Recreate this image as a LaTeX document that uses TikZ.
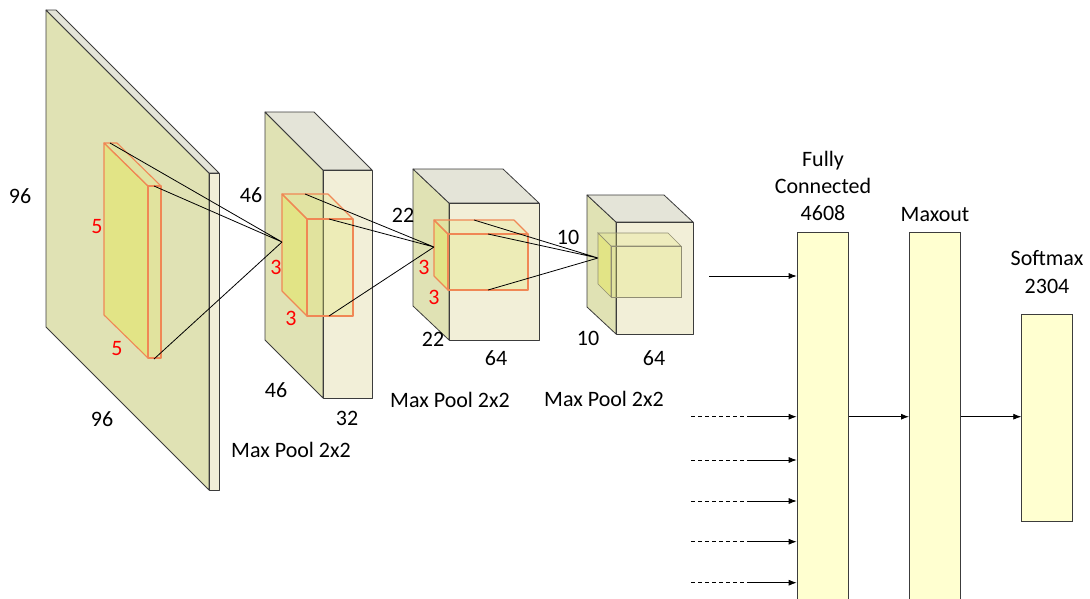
\documentclass[tikz,border=0pt]{standalone}
\usepackage{fontspec}
\setmainfont{Carlito}
\usetikzlibrary{arrows.meta}
\definecolor{lfrontc}{RGB}{224,226,180}
\definecolor{ltopc}{RGB}{228,228,216}
\definecolor{lsidec}{RGB}{242,239,216}
\definecolor{kyel}{RGB}{228,230,110}
\definecolor{korange}{RGB}{240,135,85}
\definecolor{fcfill}{RGB}{255,255,208}
\definecolor{edgec}{RGB}{60,60,60}
\tikzset{
  lfront/.style={fill=lfrontc, draw=edgec, line width=0.8pt, line join=round},
  ltop/.style={fill=ltopc, draw=edgec, line width=0.8pt, line join=round},
  lside/.style={fill=lsidec, draw=edgec, line width=0.8pt, line join=round},
  kfront/.style={fill=kyel, fill opacity=0.65, draw=korange, line width=1.1pt, line join=round},
  ktop/.style={fill=kyel, fill opacity=0.25, draw=korange, line width=1.1pt, line join=round},
  kside/.style={fill=kyel, fill opacity=0.3, draw=korange, line width=1.1pt, line join=round},
  gfront/.style={fill=kyel, fill opacity=0.65, draw=gray!80!olive, line width=0.7pt},
  gtop/.style={fill=kyel, fill opacity=0.25, draw=gray!80!olive, line width=0.7pt},
  gside/.style={fill=kyel, fill opacity=0.3, draw=gray!80!olive, line width=0.7pt},
  lbl/.style={font=\fontsize{22}{24}\selectfont, inner sep=0pt},
  rlbl/.style={lbl, text=red},
  conn/.style={draw=black, line width=0.8pt},
  fcbox/.style={draw=edgec, fill=fcfill, line width=0.8pt, anchor=north west, minimum width=51pt, inner sep=0pt},
  arr/.style={draw=black, line width=0.8pt, -{Latex[length=8pt,width=6pt]}},
  dsh/.style={draw=black, line width=0.8pt, dash pattern=on 4pt off 3pt}
}
\newcommand\cuboid[7]{%
  \draw[#7front] (#1,#2) -- ++(#3,#4) -- ++(0,#5) -- ++(-#3,-#4) -- cycle;
  \draw[#7top] (#1,#2) -- ++(#6,0) -- ++(#3,#4) -- ++(-#6,0) -- cycle;
  \draw[#7side] (#1,#2) ++(#3,#4) -- ++(#6,0) -- ++(0,#5) -- ++(-#6,0) -- cycle;
}
\begin{document}
\begin{tikzpicture}[x=1pt,y=-1pt]
\clip (0,0) rectangle (1090,598);
\fill[white] (0,0) rectangle (1090,598);
% convolutional volumes
\cuboid{46}{10}{163}{163}{317}{10}{l}
\cuboid{104}{143}{44}{43}{172}{13}{k}
\cuboid{265}{112}{58}{58}{228}{49}{l}
\cuboid{282}{194}{25}{25}{97}{46}{k}
\cuboid{413}{169}{36}{34}{137}{90}{l}
\cuboid{434}{220}{14}{14}{56}{80}{k}
\cuboid{587}{195}{29}{27}{112}{77}{l}
\cuboid{598}{233}{13}{13}{51}{70}{g}
% connector coordinates
\coordinate (k1a) at (110,143);
\coordinate (k1b) at (154,186);
\coordinate (k1c) at (154,359);
\coordinate (c1) at (282,242);
\coordinate (k2a) at (305,194);
\coordinate (k2b) at (329,219);
\coordinate (k2c) at (329,316);
\coordinate (c2) at (434,247);
\coordinate (k3a) at (474,220);
\coordinate (k3b) at (488,234);
\coordinate (k3c) at (488,290);
\coordinate (c3) at (598,258);
\draw[conn] (k1a) -- (c1) (k1b) -- (c1) (k1c) -- (c1);
\draw[conn] (k2a) -- (c2) (k2b) -- (c2) (k2c) -- (c2);
\draw[conn] (k3a) -- (c3) (k3b) -- (c3) (k3c) -- (c3);
% labels
\node[lbl] (l96a) at (20,196) {96};
\node[lbl] (l96b) at (102,419) {96};
\node[rlbl] (r5a) at (97,227) {5};
\node[rlbl] (r5b) at (117,349) {5};
\node[lbl] (l46a) at (251,195) {46};
\node[lbl] (l46b) at (276,390) {46};
\node[lbl] (l32) at (347,418) {32};
\node[rlbl] (r3a) at (276,267) {3};
\node[rlbl] (r3b) at (291,318) {3};
\node[lbl] (mp1) at (291,450) {Max Pool 2x2};
\node[lbl] (l22a) at (403,215) {22};
\node[lbl] (l22b) at (433,339) {22};
\node[lbl] (l64a) at (496,358) {64};
\node[rlbl] (r3c) at (424,267) {3};
\node[rlbl] (r3d) at (434,297) {3};
\node[lbl] (mp2) at (450,400) {Max Pool 2x2};
\node[lbl] (l10a) at (568,237) {10};
\node[lbl] (l10b) at (588,338) {10};
\node[lbl] (l64b) at (654,358) {64};
\node[lbl] (mp3) at (604,399) {Max Pool 2x2};
% fully connected part
\node[fcbox, minimum height=372pt] (fc) at (796.7,232.3) {};
\node[fcbox, minimum height=372pt] (mo) at (909,232.3) {};
\node[fcbox, minimum height=207.3pt] (sm) at (1021.3,313.7) {};
\node[lbl, align=center] (fclab) at (823,186) {Fully\\[3pt]Connected\\[3pt]4608};
\node[lbl] (molab) at (935,215) {Maxout};
\node[lbl, align=center] (smlab) at (1047,272) {Softmax\\[4pt]2304};
% input arrows
\coordinate (i0) at (709,276);
\draw[arr] (i0) -- (fc.west |- i0);
\foreach \yy [count=\n] in {416.7,460,501,541.7,582.7}{
  \coordinate (d\n) at (691,\yy);
  \coordinate (m\n) at (750,\yy);
  \draw[dsh] (d\n) -- (m\n);
  \draw[arr] (m\n) -- (fc.west |- m\n);
}
\coordinate (o1) at (fc.east |- m1);
\draw[arr] (o1) -- (mo.west |- o1);
\coordinate (o2) at (mo.east |- m1);
\draw[arr] (o2) -- (sm.west |- o2);
\end{tikzpicture}
\end{document}
